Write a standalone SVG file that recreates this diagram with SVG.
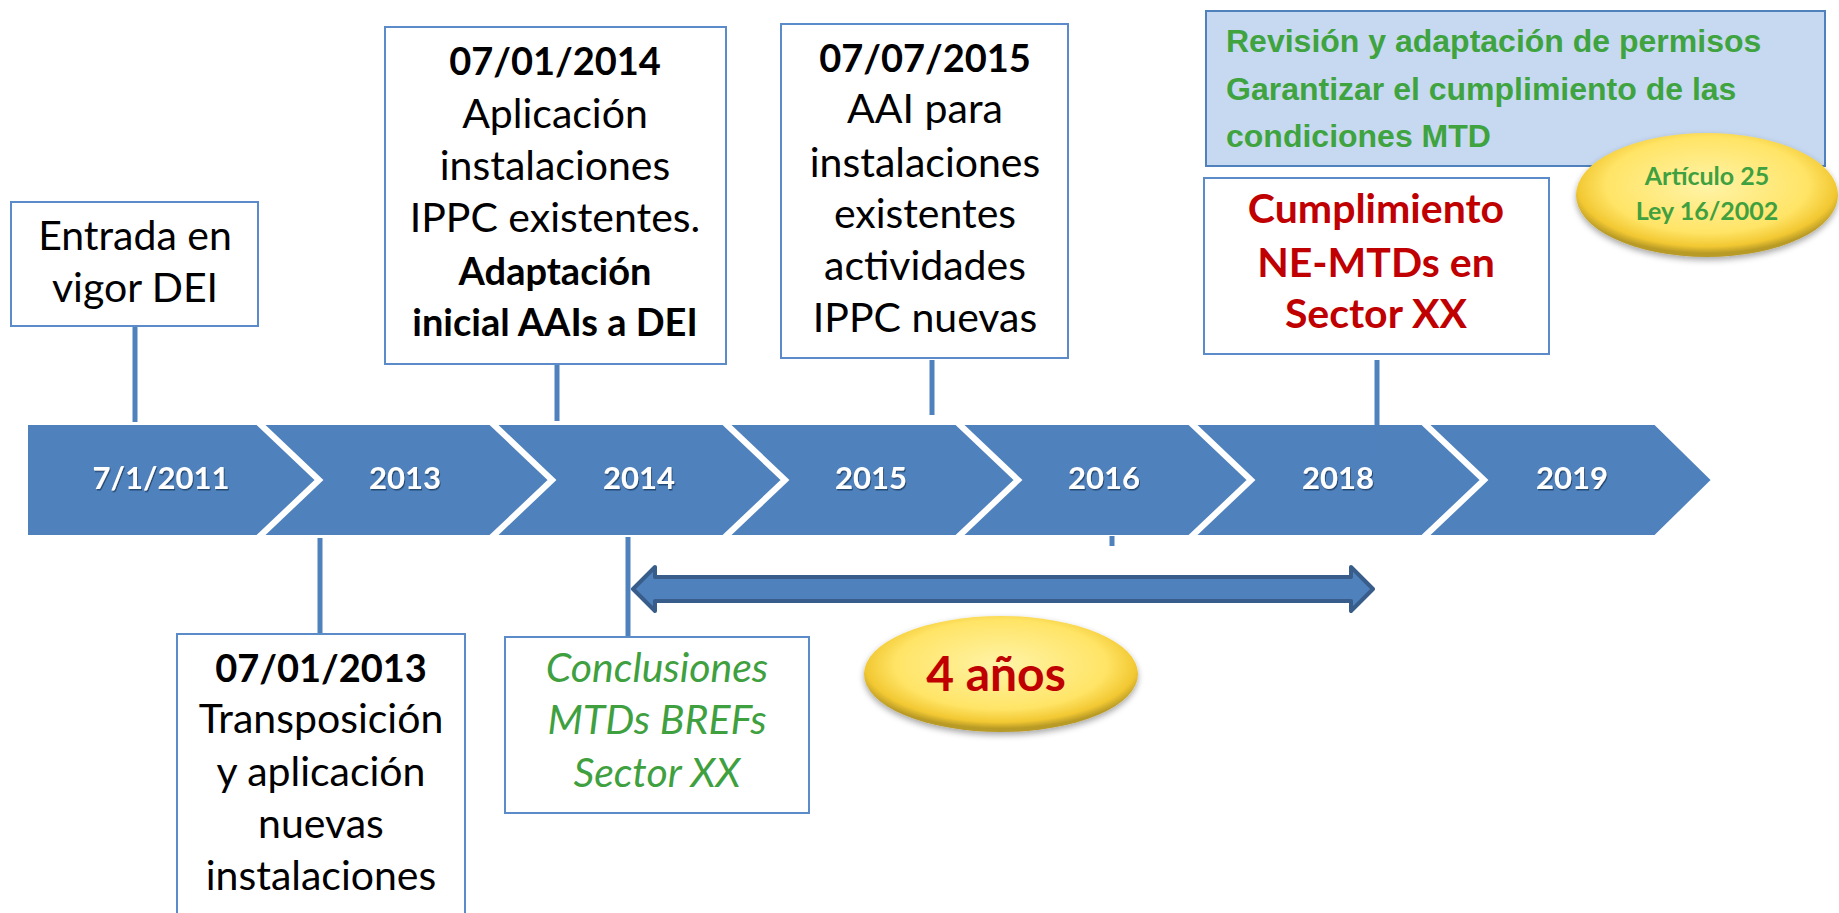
<svg xmlns="http://www.w3.org/2000/svg" width="1839" height="913" viewBox="0 0 1839 913">
<defs>
  <radialGradient id="gold" cx="50%" cy="42%" r="55%">
    <stop offset="0" stop-color="#FFF4A8"/>
    <stop offset="0.7" stop-color="#FFE466"/>
    <stop offset="0.9" stop-color="#F2C832"/>
    <stop offset="1" stop-color="#B89A26"/>
  </radialGradient>
  <filter id="shadow" x="-20%" y="-20%" width="140%" height="150%">
    <feDropShadow dx="0" dy="3" stdDeviation="3" flood-color="#000" flood-opacity="0.35"/>
  </filter>
  <filter id="tshadow" x="-10%" y="-20%" width="120%" height="150%">
    <feDropShadow dx="1" dy="1.5" stdDeviation="0.6" flood-color="#1F3A5F" flood-opacity="0.8"/>
  </filter>
</defs>
<style>
  .box { fill: #FFFFFF; stroke: #5B8BC9; stroke-width: 2; }
  .conn { stroke: #4F81BD; stroke-width: 5; fill: none; }
  .chev { fill: #4F81BD; stroke: #FFFFFF; stroke-width: 2; }
  .year { font-family: Lato, "Liberation Sans", sans-serif; font-weight: bold; font-size: 31px; fill: #FFFFFF; text-anchor: middle; }
  .t { font-family: Lato, "Liberation Sans", sans-serif; font-size: 41px; fill: #000000; text-anchor: middle; }
  .b { font-weight: bold; font-size: 38px; }
  .red { fill: #C00000; font-weight: bold; font-size: 41px; }
  .gi { font-family: Lato, "Liberation Sans", sans-serif; font-style: italic; font-size: 41px; fill: #3FA03F; text-anchor: middle; }
  .gh { font-family: "Liberation Sans", Arial, sans-serif; font-weight: bold; font-size: 32px; fill: #3FA33F; }
  .ga { font-family: Lato, "Liberation Sans", sans-serif; font-weight: bold; font-size: 25px; fill: #3FA03F; text-anchor: middle; }
  .big { font-family: Lato, "Liberation Sans", sans-serif; font-weight: bold; font-size: 48px; fill: #C00000; text-anchor: middle; }
</style>

<g id="timeline">
  <polygon class="chev" points="27,424 257,424 316,480 257,536 27,536"/>
  <polygon class="chev" points="263,424 490,424 549,480 490,536 263,536 322,480"/>
  <polygon class="chev" points="496,424 723,424 782,480 723,536 496,536 555,480"/>
  <polygon class="chev" points="729,424 956,424 1015,480 956,536 729,536 788,480"/>
  <polygon class="chev" points="962,424 1189,424 1248,480 1189,536 962,536 1021,480"/>
  <polygon class="chev" points="1195,424 1422,424 1481,480 1422,536 1195,536 1254,480"/>
  <polygon class="chev" points="1428,424 1655,424 1712,480 1655,536 1428,536 1487,480"/>
  <g filter="url(#tshadow)">
    <text class="year" x="161" y="489">7/1/2011</text>
    <text class="year" x="405" y="489">2013</text>
    <text class="year" x="639" y="489">2014</text>
    <text class="year" x="871" y="489">2015</text>
    <text class="year" x="1104" y="489">2016</text>
    <text class="year" x="1338" y="489">2018</text>
    <text class="year" x="1572" y="489">2019</text>
  </g>
</g>

<g id="connectors">
  <line class="conn" x1="135" y1="327" x2="135" y2="422"/>
  <line class="conn" x1="557" y1="365" x2="557" y2="421"/>
  <line class="conn" x1="932" y1="360" x2="932" y2="415"/>
  <line class="conn" x1="1377" y1="360" x2="1377" y2="457" stroke="#5C8DCA"/>
  <line class="conn" x1="320" y1="538" x2="320" y2="633"/>
  <line class="conn" x1="628" y1="537" x2="628" y2="636"/>
  <line class="conn" x1="1112" y1="536" x2="1112" y2="546" stroke-width="4"/>
  <polygon id="arrow-4anos" points="633,589 655,567 655,577 1351,577 1351,567 1373,589 1351,611 1351,601 655,601 655,611" fill="#4F81BD" stroke="#385D8A" stroke-width="4" stroke-linejoin="round"/>
</g>

<g id="node-entrada">
  <rect class="box" x="11" y="202" width="247" height="124"/>
  <text class="t" x="135" y="250">Entrada en</text>
  <text class="t" x="135" y="302">vigor DEI</text>
</g>

<g id="node-2014">
  <rect class="box" x="385" y="27" width="341" height="337"/>
  <text class="t b" x="555" y="75">07/01/2014</text>
  <text class="t" x="555" y="128">Aplicación</text>
  <text class="t" x="555" y="180">instalaciones</text>
  <text class="t" x="555" y="232">IPPC existentes.</text>
  <text class="t b" x="555" y="285">Adaptación</text>
  <text class="t b" x="555" y="336">inicial AAIs a DEI</text>
</g>

<g id="node-2015">
  <rect class="box" x="781" y="24" width="287" height="334"/>
  <text class="t b" x="925" y="72">07/07/2015</text>
  <text class="t" x="925" y="123">AAI para</text>
  <text class="t" x="925" y="177">instalaciones</text>
  <text class="t" x="925" y="228">existentes</text>
  <text class="t" x="925" y="280">actividades</text>
  <text class="t" x="925" y="332">IPPC nuevas</text>
</g>

<g id="node-revision">
  <rect x="1206" y="11" width="619" height="155" fill="#C6D9F1" stroke="#4F81BD" stroke-width="2"/>
  <text class="gh" x="1226" y="52">Revisión y adaptación de permisos</text>
  <text class="gh" x="1226" y="100">Garantizar el cumplimiento de las</text>
  <text class="gh" x="1226" y="147">condiciones MTD</text>
</g>

<g id="node-cumplimiento">
  <rect class="box" x="1204" y="178" width="345" height="176"/>
  <text class="t red" x="1376" y="223">Cumplimiento</text>
  <text class="t red" x="1376" y="277">NE-MTDs en</text>
  <text class="t red" x="1376" y="328">Sector XX</text>
</g>

<g id="node-articulo">
  <ellipse cx="1707" cy="195" rx="131" ry="62" fill="url(#gold)" filter="url(#shadow)"/>
  <text class="ga" x="1707" y="185">Artículo 25</text>
  <text class="ga" x="1707" y="220">Ley 16/2002</text>
</g>

<g id="node-2013">
  <rect class="box" x="177" y="634" width="288" height="290"/>
  <text class="t b" x="321" y="682">07/01/2013</text>
  <text class="t" x="321" y="733">Transposición</text>
  <text class="t" x="321" y="786">y aplicación</text>
  <text class="t" x="321" y="838">nuevas</text>
  <text class="t" x="321" y="890">instalaciones</text>
</g>

<g id="node-conclusiones">
  <rect class="box" x="505" y="637" width="304" height="176"/>
  <text class="gi" x="657" y="682">Conclusiones</text>
  <text class="gi" x="657" y="734">MTDs BREFs</text>
  <text class="gi" x="657" y="787">Sector XX</text>
</g>

<g id="node-4anos">
  <ellipse cx="1001" cy="674" rx="137" ry="58" fill="url(#gold)" filter="url(#shadow)"/>
  <text class="big" x="996" y="691">4 años</text>
</g>
</svg>
